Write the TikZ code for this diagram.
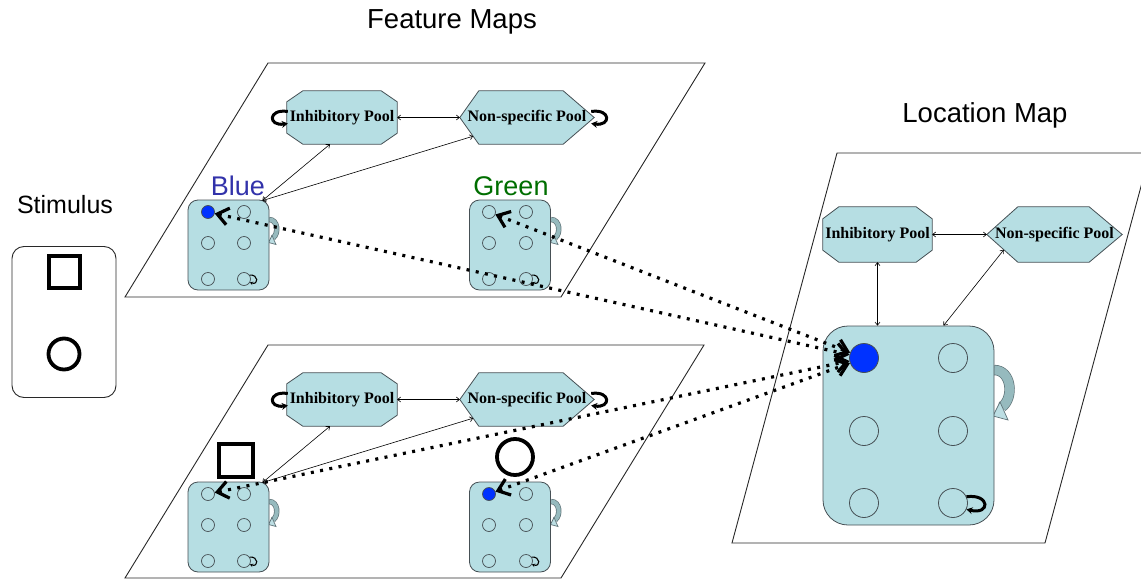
\documentclass[tikz,border=0pt]{standalone}
\usepackage{fontspec}
\setmainfont{Liberation Sans}
\newfontfamily\poolface{Liberation Serif}
\usetikzlibrary{arrows.meta,calc}

\definecolor{cellfill}{RGB}{182,222,227}
\definecolor{celledge}{RGB}{70,80,85}
\definecolor{recurband}{RGB}{150,186,190}
\definecolor{recurhead}{RGB}{188,222,227}
\definecolor{recuredge}{RGB}{95,115,120}
\definecolor{unitblue}{RGB}{0,50,255}
\definecolor{labelblue}{RGB}{50,50,170}
\definecolor{labelgreen}{RGB}{0,110,0}
\definecolor{planeline}{RGB}{40,40,40}

\pgfdeclarelayer{poolbg}
\pgfsetlayers{poolbg,main}

\tikzset{
  plane/.style={draw=planeline, line width=0.9pt},
  heading/.style={font=\fontsize{27.5}{32}\selectfont},
  stimheading/.style={font=\fontsize{25}{30}\selectfont},
  maplabel/.style={font=\fontsize{27}{32}\selectfont, inner sep=0pt},
  stimbox/.style={draw=planeline, rounded corners=12pt, line width=0.9pt, inner sep=0pt},
  shapemark/.style={draw=black, line width=3.8pt, inner sep=0pt},
  poolnode/.style={rectangle, inner sep=0pt, font=\poolface\bfseries\fontsize{16}{18}\selectfont},
  pool/.style={draw=celledge, fill=cellfill, line width=0.8pt},
  cellbox/.style={draw=celledge, fill=cellfill, rounded corners=10pt, line width=0.8pt, inner sep=0pt,
                  minimum width=81pt, minimum height=90pt},
  locbox/.style={draw=celledge, fill=cellfill, rounded corners=25pt, line width=0.8pt, inner sep=0pt,
                 minimum width=171pt, minimum height=199pt},
  unit/.style={circle, draw=celledge, line width=0.7pt, inner sep=0pt, minimum size=13pt},
  bigunit/.style={circle, draw=celledge, line width=0.8pt, inner sep=0pt, minimum size=29pt},
  link/.style={draw=black, line width=0.6pt, {Straight Barb[length=3pt,width=5pt]}-{Straight Barb[length=3pt,width=5pt]}},
  selfloop/.style={draw=black, line width=3pt, -{Stealth[length=6pt,width=7pt]}},
  smallloop/.style={draw=black, line width=1.1pt, -{Stealth[length=3pt,width=3.5pt]}},
  dotlink/.style={draw=black, line width=3.2pt, dash pattern=on 3pt off 6.4pt,
                  {Straight Barb[length=11pt,width=17pt]}-{Straight Barb[length=11pt,width=17pt]}},
}

% octagonal pool outline around a node: name, corner cut x, corner cut y
\newcommand\octpool[3]{%
  \path[pool] ($(#1.north west)+(#2,0)$) -- ($(#1.north east)+(-#2,0)$)
    -- ($(#1.north east)+(0,#3)$) -- ($(#1.south east)+(0,-#3)$)
    -- ($(#1.south east)+(-#2,0)$) -- ($(#1.south west)+(#2,0)$)
    -- ($(#1.south west)+(0,-#3)$) -- ($(#1.north west)+(0,#3)$) -- cycle;}
% hexagonal pool outline around a node: name, left cut, right cut
\newcommand\hexpool[3]{%
  \path[pool] (#1.west) -- ($(#1.north west)+(#2,0)$) -- ($(#1.north east)+(-#3,0)$)
    -- (#1.east) -- ($(#1.south east)+(-#3,0)$) -- ($(#1.south west)+(#2,0)$) -- cycle;}
% curved recurrent arrow on the side of a unit box: attach point, scale, band width
\newcommand\recurarrow[3]{%
  \begin{scope}[shift={#1}, scale=#2]
    \draw[recuredge, line width=0.7pt, double=recurband, double distance=#3]
      (0,5) .. controls (18,5) and (20,33) .. (8,42);
    \filldraw[draw=recuredge, fill=recurhead, line width=0.7pt]
      (-1,51) -- (6,37) -- (14,55) -- cycle;
  \end{scope}}

\begin{document}
\begin{tikzpicture}[x=1pt,y=-1pt]
\useasboundingbox (0,0) rectangle (1141,581);

% map planes
\begin{scope}
  \clip (0,0) rectangle (1141,581);
  \draw[plane] (268,63) -- (705,63) -- (561,297) -- (125,297) -- cycle;
  \draw[plane] (268,345) -- (704,345) -- (561,578) -- (125,578) -- cycle;
  \draw[plane] (837,153) -- (1150,153) -- (1045,543) -- (732,543) -- cycle;
\end{scope}

% headings
\node[heading] (featTitle) at (452,22) {Feature Maps};
\node[heading] (locTitle) at (985,115) {Location Map};
\node[stimheading] (stimTitle) at (65,205) {Stimulus};

% stimulus panel
\node[stimbox, minimum width=104pt, minimum height=151pt] (stim) at (64,322) {};
\node[shapemark, rectangle, minimum width=31pt, minimum height=32pt] (stimSquare) at (64.5,272) {};
\node[shapemark, circle, minimum size=31pt] (stimCircle) at (64,354) {};

% ---------- upper feature map ----------
\node[poolnode, minimum width=110pt, minimum height=53pt] (tinh) at (342,117.5) {Inhibitory Pool};
\node[poolnode, minimum width=134pt, minimum height=53pt] (tns) at (527,117.5) {Non-specific Pool};
\node[maplabel, text=labelblue] (blueLabel) at (238,186) {Blue};
\node[maplabel, text=labelgreen] (greenLabel) at (511,186) {Green};
\recurarrow{(269,217)}{0.5}{4pt}
\recurarrow{(551,217)}{0.5}{4pt}
\node[cellbox] (tbb) at (228.5,245) {};
\node[cellbox] (tgb) at (510,245) {};
\node[unit, fill=unitblue] (tb1) at (208,212) {};
\foreach \n/\x/\y in {2/244/212,3/208/243,4/244/243,5/208/279,6/244/279}
  {\node[unit] (tb\n) at (\x,\y) {};}
\foreach \n/\x/\y in {1/489/212,2/526/212,3/489/243,4/526/243,5/489/279,6/526/279}
  {\node[unit] (tg\n) at (\x,\y) {};}

% ---------- lower feature map ----------
\node[poolnode, minimum width=110pt, minimum height=53pt] (binh) at (342,399.5) {Inhibitory Pool};
\node[poolnode, minimum width=134pt, minimum height=53pt] (bns) at (527,399.5) {Non-specific Pool};
\recurarrow{(269,499)}{0.5}{4pt}
\recurarrow{(551,499)}{0.5}{4pt}
\node[cellbox] (bsb) at (228.5,527) {};
\node[cellbox] (bcb) at (510,527) {};
\foreach \n/\x/\y in {1/208/494,2/244/494,3/208/525,4/244/525,5/208/561,6/244/561}
  {\node[unit] (bs\n) at (\x,\y) {};}
\node[unit, fill=unitblue] (bc1) at (489,494) {};
\foreach \n/\x/\y in {2/526/494,3/489/525,4/526/525,5/489/561,6/526/561}
  {\node[unit] (bc\n) at (\x,\y) {};}
\node[shapemark, rectangle, minimum width=34pt, minimum height=33pt] (bsSquare) at (236,460.5) {};
\node[shapemark, circle, minimum size=36pt] (bcCircle) at (515,457) {};

% ---------- location map ----------
\node[poolnode, minimum width=109pt, minimum height=55pt] (linh) at (877.5,234.5) {Inhibitory Pool};
\node[poolnode, minimum width=135pt, minimum height=55pt] (lns) at (1054.5,234.5) {Non-specific Pool};
\recurarrow{(994,365)}{1}{9pt}
\node[locbox] (lbox) at (908.5,425.5) {};
\node[bigunit, fill=unitblue] (lc1) at (864,358) {};
\foreach \n/\x/\y in {2/953/358,3/864/431,4/953/431,5/864/503,6/953/503}
  {\node[bigunit] (lc\n) at (\x,\y) {};}

% pool outlines behind their labels
\begin{pgfonlayer}{poolbg}
  \octpool{tinh}{16}{11}
  \hexpool{tns}{19}{31}
  \octpool{binh}{16}{11}
  \hexpool{bns}{19}{31}
  \octpool{linh}{16}{12}
  \hexpool{lns}{31}{33}
\end{pgfonlayer}

% pool links, upper map
\coordinate (tbbCorner) at ($(tbb.north east)+(-7,1)$);
\coordinate (tinhFoot) at ($(tinh.south)+(-12,0)$);
\coordinate (tnsFoot) at ($(tns.west)!0.7!($(tns.south west)+(19,0)$)$);
\draw[link] (tinh.east) -- (tns.west);
\draw[link] (tbbCorner) -- (tinhFoot);
\draw[link] (tbbCorner) -- (tnsFoot);

% pool links, lower map
\coordinate (bsbCorner) at ($(bsb.north east)+(-7,1)$);
\coordinate (binhFoot) at ($(binh.south)+(-12,0)$);
\coordinate (bnsFoot) at ($(bns.west)!0.7!($(bns.south west)+(19,0)$)$);
\draw[link] (binh.east) -- (bns.west);
\draw[link] (bsbCorner) -- (binhFoot);
\draw[link] (bsbCorner) -- (bnsFoot);

% pool links, location map
\coordinate (lnsFoot) at ($(lns.west)!0.55!($(lns.south west)+(31,0)$)$);
\coordinate (lboxTop) at ($(lbox.north)+(35,0)$);
\draw[link] (linh.east) -- (lns.west);
\draw[link] (linh.south) -- (linh.south |- lbox.north);
\draw[link] (lnsFoot) -- (lboxTop);

% pool self-excitation
\draw[selfloop] ($(tinh.west)+(1,-6)$) .. controls +(-20,-3) and +(-20,3) .. ($(tinh.west)+(1,6)$);
\draw[selfloop] ($(tns.east)+(-3,-6)$) .. controls +(20,-3) and +(20,3) .. ($(tns.east)+(-3,6)$);
\draw[selfloop] ($(binh.west)+(1,-6)$) .. controls +(-20,-3) and +(-20,3) .. ($(binh.west)+(1,6)$);
\draw[selfloop] ($(bns.east)+(-3,-6)$) .. controls +(20,-3) and +(20,3) .. ($(bns.east)+(-3,6)$);

% unit self-excitation
\draw[smallloop] (tb6.35) .. controls +(9,-1) and +(9,3) .. (tb6.-30);
\draw[smallloop] (tg6.35) .. controls +(9,-1) and +(9,3) .. (tg6.-30);
\draw[smallloop] (bs6.35) .. controls +(9,-1) and +(9,3) .. (bs6.-30);
\draw[smallloop] (bc6.35) .. controls +(9,-1) and +(9,3) .. (bc6.-30);
\draw[selfloop] (lc6.25) .. controls +(24,-3) and +(24,6) .. (lc6.-25);

% feature-to-location links
\draw[dotlink] (tb1) -- (lc1);
\draw[dotlink] (tg1) -- (lc1);
\draw[dotlink] (bs1) -- (lc1);
\draw[dotlink] (bc1) -- (lc1);
\end{tikzpicture}
\end{document}
